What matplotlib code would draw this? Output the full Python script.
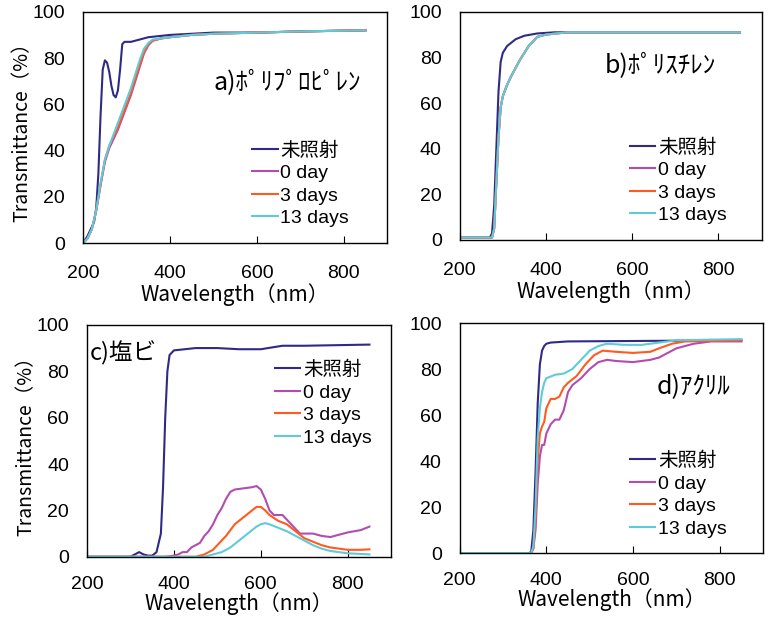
import matplotlib
matplotlib.use("Agg")
import matplotlib.pyplot as plt

plt.rcParams['font.family'] = ['Noto Sans CJK JP', 'DejaVu Sans']
latin = ['Liberation Sans', 'Noto Sans CJK JP', 'DejaVu Sans']

labels = ['未照射', '0 day', '3 days', '13 days']
colors = ['#2e2a85', '#b34cb0', '#ff5a1f', '#5fcad8']

# a) polypropylene
a_wl0 = [200, 210, 220, 225, 230, 235, 240, 245, 250, 255, 260, 265, 270, 275, 280, 285,
         290, 295, 310, 330, 350, 400, 450, 500, 600, 700, 850]
a_t0 = [0, 3, 7, 9, 15, 30, 55, 75, 79, 78, 74, 68, 64, 63, 66, 75,
        86, 87, 87, 88, 89, 90, 90.5, 91, 91, 91.5, 92]
a_wl = [200, 210, 220, 230, 240, 250, 260, 270, 280, 290, 300, 310, 320, 330, 340, 350,
        360, 380, 400, 450, 500, 600, 700, 850]
a_t1 = [0, 2, 6, 14, 25, 35, 41, 45, 49, 54, 59, 64, 70, 76, 82, 85.5,
        87.5, 88.5, 89, 90, 90.5, 91, 91.5, 92]
a_t2 = [0, 2, 6, 14, 25, 36, 42, 46, 50, 55, 60, 65, 71, 77, 82.5, 86,
        87.5, 88.5, 89, 90, 90.5, 91, 91.5, 92]
a_t3 = [0, 2, 6, 14, 26, 36, 42, 47, 52, 57, 62, 67, 73, 79, 84, 86.5,
        88, 88.5, 89, 90, 90.5, 91, 91.5, 92]

# b) polystyrene
b_wl0 = [200, 270, 275, 280, 285, 290, 295, 300, 310, 330, 350, 380, 420, 850]
b_t0 = [1, 1, 3, 15, 40, 65, 78, 82, 85, 88, 89.5, 90.5, 91, 91]
b_wl = [200, 275, 280, 285, 290, 295, 300, 310, 320, 340, 360, 380, 400, 450, 850]
b_t1 = [1, 1, 5, 25, 45, 58, 63, 68, 72, 79, 85, 89, 90, 91, 91]
b_t2 = [1, 1, 5, 25, 45, 58, 63, 68, 72, 79, 85, 89, 90, 91, 91]
b_t3 = [1, 1, 5, 25, 45, 58, 63, 68, 72, 79, 85, 89, 90, 91, 91]

# c) PVC
c_wl0 = [200, 300, 310, 320, 330, 340, 350, 360, 370, 375, 380, 385, 390, 400, 450,
         500, 550, 600, 650, 700, 850]
c_t0 = [0, 0, 1, 2, 1, 0.5, 0.5, 2, 10, 30, 60, 80, 87, 89, 90,
        90, 89.5, 89.5, 91, 91, 91.5]
c_wl1 = [200, 380, 400, 410, 420, 430, 440, 450, 460, 470, 480, 490, 500, 510, 520, 530,
         540, 560, 580, 590, 600, 610, 620, 630, 650, 670, 690, 720, 740, 760, 780,
         800, 830, 850]
c_t1 = [0, 0, 0.5, 1, 2, 2, 4, 5, 6, 9, 11, 14, 18, 21, 25, 28,
        29, 29.5, 30, 30.5, 29, 25, 20, 18, 18, 14, 10, 10, 9, 8.5, 9.5,
        10.5, 11.5, 13]
c_wl2 = [200, 450, 460, 470, 480, 490, 500, 520, 540, 560, 580, 590, 600, 610, 620, 640,
         660, 680, 700, 720, 740, 760, 780, 800, 830, 850]
c_t2 = [0, 0, 0.5, 1, 2, 3, 5, 9, 14, 17, 20, 21.5, 21.5, 20, 18, 15.5,
        14, 11, 8, 6.5, 5, 4, 3.5, 3, 3, 3.2]
c_wl3 = [200, 470, 490, 510, 530, 550, 570, 590, 600, 610, 620, 640, 660, 680, 700, 720,
         740, 760, 780, 800, 850]
c_t3 = [0, 0, 1, 2, 4, 7, 10, 13, 14, 14.5, 14, 12.5, 11, 9, 7, 5,
        3.5, 2.5, 2, 1.5, 1]

# d) acrylic
d_wl0 = [200, 360, 365, 370, 375, 380, 385, 390, 395, 400, 410, 450, 850]
d_t0 = [0, 0, 0.5, 10, 35, 65, 82, 88, 90, 91, 91.5, 92, 92.5]
d_wl1 = [200, 365, 370, 375, 380, 385, 390, 395, 400, 410, 420, 430, 440, 450, 460, 480,
         500, 520, 540, 560, 600, 640, 660, 680, 700, 740, 780, 850]
d_t1 = [0, 0, 2, 10, 30, 42, 47, 47, 52, 56, 58, 58, 62, 70, 73, 76,
        80, 83, 84, 83.5, 83, 84, 85, 87, 89, 91, 92, 92]
d_wl2 = [200, 365, 370, 375, 380, 385, 390, 395, 400, 410, 420, 430, 440, 450, 470, 490,
         510, 530, 560, 600, 640, 660, 690, 720, 850]
d_t2 = [0, 0, 2, 15, 40, 52, 55, 57, 63, 67, 67, 68, 72, 74, 77, 82,
        86, 88, 87.5, 87, 87.5, 89, 91, 92, 92.5]
d_wl3 = [200, 365, 370, 375, 380, 385, 390, 395, 400, 420, 440, 460, 480, 500, 520, 540,
         580, 620, 660, 700, 850]
d_t3 = [0, 0, 3, 20, 50, 63, 70, 74, 76, 77.5, 78, 80, 84, 88, 90, 91,
        90.5, 90.5, 91.5, 92.5, 93]

panels = [
    ([a_wl0, a_wl, a_wl, a_wl], [a_t0, a_t1, a_t2, a_t3], 'a)ﾎﾟﾘﾌﾟﾛﾋﾟﾚﾝ'),
    ([b_wl0, b_wl, b_wl, b_wl], [b_t0, b_t1, b_t2, b_t3], 'b)ﾎﾟﾘｽﾁﾚﾝ'),
    ([c_wl0, c_wl1, c_wl2, c_wl3], [c_t0, c_t1, c_t2, c_t3], 'c)塩ビ'),
    ([d_wl0, d_wl1, d_wl2, d_wl3], [d_t0, d_t1, d_t2, d_t3], 'd)ｱｸﾘﾙ'),
]

rects = [
    [0.108, 0.608, 0.395, 0.373],
    [0.597, 0.613, 0.392, 0.368],
    [0.113, 0.102, 0.395, 0.374],
    [0.597, 0.108, 0.394, 0.371],
]
title_pos = [(0.43, 0.69), (0.48, 0.76), (0.01, 0.88), (0.65, 0.72)]
title_size = [18, 18, 17, 18]
leg_pos = [(0.556, 0.44), (0.563, 0.445), (0.618, 0.845), (0.561, 0.44)]
tick_pad = [16, 16, 14, 14]
xlab_pad = [1, 1, -1, -1]

fig = plt.figure(figsize=(7.7, 6.2), dpi=100)
for i, (wls, ts, name) in enumerate(panels):
    ax = fig.add_axes(rects[i])
    for wl, t, lab, col in zip(wls, ts, labels, colors):
        ax.plot(wl, t, color=col, lw=1.5, label=lab)
    ax.set_xlim(200, 900)
    ax.set_ylim(0, 100)
    ax.set_xticks([200, 400, 600, 800])
    ax.set_yticks([0, 20, 40, 60, 80, 100])
    ax.tick_params(axis='x', direction='in', length=5, pad=tick_pad[i])
    ax.tick_params(axis='y', length=0, pad=13)
    for tl in ax.get_xticklabels() + ax.get_yticklabels():
        tl.set_fontfamily(latin)
        tl.set_fontsize(14)
    ax.set_xlabel('Wavelength（nm）', fontsize=15, labelpad=xlab_pad[i])
    if i % 2 == 0:
        ax.set_ylabel('Transmittance（%）', fontsize=14, labelpad=0)
    ax.text(title_pos[i][0], title_pos[i][1], name, transform=ax.transAxes,
            fontsize=title_size[i], va='center', ha='left')
    ax.legend(loc='upper left', bbox_to_anchor=leg_pos[i], frameon=False,
              prop={'family': latin, 'size': 14}, handlelength=1.3,
              handletextpad=0.15, labelspacing=0.25, borderpad=0, borderaxespad=0)
    for s in ax.spines.values():
        s.set_linewidth(1.0)

fig.savefig('out.png', dpi=100)
